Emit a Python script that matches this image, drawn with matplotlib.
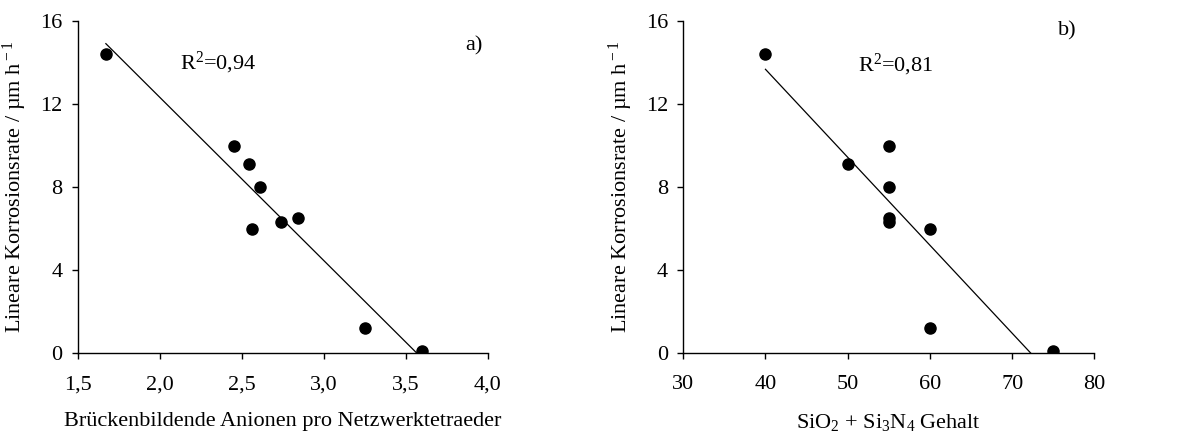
import numpy as np
import matplotlib
matplotlib.use("Agg")
import matplotlib.pyplot as plt

plt.rcParams['font.family'] = ['Liberation Serif', 'DejaVu Serif']
plt.rcParams['mathtext.fontset'] = 'custom'
plt.rcParams['mathtext.rm'] = 'Liberation Serif'
plt.rcParams['mathtext.it'] = 'Liberation Serif:italic'
plt.rcParams['mathtext.bf'] = 'Liberation Serif:bold'

# data
rate = [14.4, 10.0, 9.1, 8.0, 6.0, 6.3, 6.5, 1.2, 0.1]
anionen = [1.67, 2.45, 2.54, 2.61, 2.56, 2.74, 2.84, 3.25, 3.60]
gehalt = [40, 55, 50, 55, 60, 55, 55, 60, 75]

yticks = [0, 4, 8, 12, 16]
xticks_a = [1.5, 2.0, 2.5, 3.0, 3.5, 4.0]
xlabels_a = ['1,5', '2,0', '2,5', '3,0', '3,5', '4,0']
xticks_b = [30, 40, 50, 60, 70, 80]
r2_a = '0,94'
r2_b = '0,81'

fs = 16

fig = plt.figure(figsize=(11.78, 4.37), dpi=100)
ax1 = fig.add_axes([0.0662, 0.192, 0.348, 0.760])
ax2 = fig.add_axes([0.580, 0.192, 0.349, 0.760])

ylab = 'Lineare Korrosionsrate / µm h$^{\\rm -1}$'


def panel(ax, x, y, xticks, xlabels, xlabel, r2, r2pos, tag, tagpos):
    x = np.array(x)
    y = np.array(y)
    k, d = np.polyfit(x, y, 1)
    xs = np.linspace(x.min(), x.max(), 200)
    ax.plot(xs, k * xs + d, color='black', lw=0.9, zorder=2)
    ax.plot(x, y, 'o', color='black', ms=8, zorder=3)
    ax.set_xlim(xticks[0], xticks[-1])
    ax.set_ylim(0, 16)
    ax.set_xticks(xticks)
    ax.set_xticklabels(xlabels)
    ax.set_yticks(yticks)
    for s in ['top', 'right']:
        ax.spines[s].set_visible(False)
    for s in ['left', 'bottom']:
        ax.spines[s].set_linewidth(1.0)
    ax.tick_params(direction='out', length=4, width=1.0, labelsize=fs)
    ax.tick_params(axis='x', pad=12)
    ax.tick_params(axis='y', pad=7)
    ax.set_xlabel(xlabel, fontsize=fs, labelpad=13)
    ax.set_ylabel(ylab, fontsize=fs, labelpad=8)
    ax.text(r2pos[0], r2pos[1], 'R$^{\\rm 2}$=' + r2, fontsize=fs, va='center', ha='left')
    ax.text(tagpos[0], tagpos[1], tag, fontsize=fs, va='center', ha='left')


panel(ax1, anionen, rate, xticks_a, xlabels_a,
      'Brückenbildende Anionen pro Netzwerktetraeder',
      r2_a, (2.12, 14.0), 'a)', (3.86, 14.8))
panel(ax2, gehalt, rate, xticks_b, [str(t) for t in xticks_b],
      'SiO$_{\\rm 2}$ + Si$_{\\rm 3}$N$_{\\rm 4}$ Gehalt',
      r2_b, (51.2, 13.9), 'b)', (75.6, 15.5))

plt.savefig('out.png', dpi=100)
